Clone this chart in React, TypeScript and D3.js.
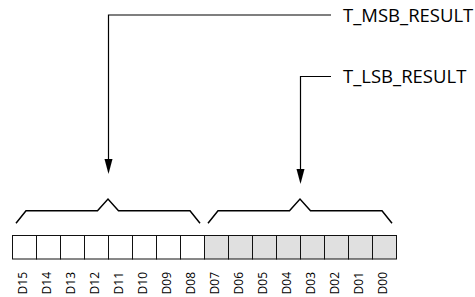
import React from "react";
import * as d3 from "d3";

const bitLabels = ["D15","D14","D13","D12","D11","D10","D09","D08","D07","D06","D05","D04","D03","D02","D01","D00"];
const registerNames = ["T_MSB_RESULT", "T_LSB_RESULT"];
const registerBits = [8, 8];
const registerFill = ["#ffffff", "#e0e0e0"];

const W = 475;
const H = 297;

export default function App() {
  const x = d3.scaleBand<string>().domain(bitLabels).range([12, 396]).paddingInner(0).paddingOuter(0);
  const bw = x.bandwidth();
  const boxTop = 235.5;
  const boxH = 23.5;

  let start = 0;
  const groups = registerNames.map((name, i) => {
    const bits = bitLabels.slice(start, start + registerBits[i]);
    start += registerBits[i];
    const x0 = x(bits[0])!;
    const x1 = x(bits[bits.length - 1])! + bw;
    return { name, bits, x0, x1, cx: (x0 + x1) / 2, fill: registerFill[i] };
  });

  const labelY = d3.scaleOrdinal<string, number>().domain(registerNames).range([15, 76.5]);
  const tipY = d3.scaleOrdinal<string, number>().domain(registerNames).range([174, 184]);
  const textX = 343;
  const lineEndX = 331;

  const braceLine = d3.line<[number, number]>().x(d => d[0]).y(d => d[1]);

  return (
    <svg width={W} height={H} style={{ position: "absolute", left: 0, top: 0, background: "#fff" }}>
      {groups.map((g) => {
        const yb = 223.3, ym = 210.7, yp = 199;
        const pts: [number, number][] = [
          [g.x0 + 4, yb], [g.x0 + 14, ym], [g.cx - 10.5, ym], [g.cx, yp],
          [g.cx + 10.5, ym], [g.x1 - 14, ym], [g.x1 - 4, yb],
        ];
        const ly = labelY(g.name);
        const ty = tipY(g.name);
        const ax = Math.round(g.cx) + 0.5;
        return (
          <g key={g.name}>
            <path d={`M${lineEndX},${ly}H${ax}V${ty - 15}`} fill="none" stroke="#000" strokeWidth={1.2} />
            <path d={`M${ax - 4},${ty - 15}L${ax + 4},${ty - 15}L${ax},${ty}Z`} fill="#000" />
            <text x={textX} y={ly} dy="0.36em" fontFamily="'Open Sans', sans-serif" fontSize={18.5} fill="#000">{g.name}</text>
            <path d={braceLine(pts)!} fill="none" stroke="#000" strokeWidth={1.5} strokeLinejoin="miter" />
            {g.bits.map(b => (
              <rect key={b} x={x(b)! + 0.5} y={boxTop} width={bw} height={boxH} fill={g.fill} stroke="#111" strokeWidth={1} />
            ))}
          </g>
        );
      })}
      {bitLabels.map(b => {
        const cx = x(b)! + bw / 2 + 3;
        return (
          <text key={b} transform={`translate(${cx},272) rotate(-90)`} textAnchor="end"
            fontFamily="'Open Sans', sans-serif" fontSize={12} fill="#000">{b}</text>
        );
      })}
    </svg>
  );
}
